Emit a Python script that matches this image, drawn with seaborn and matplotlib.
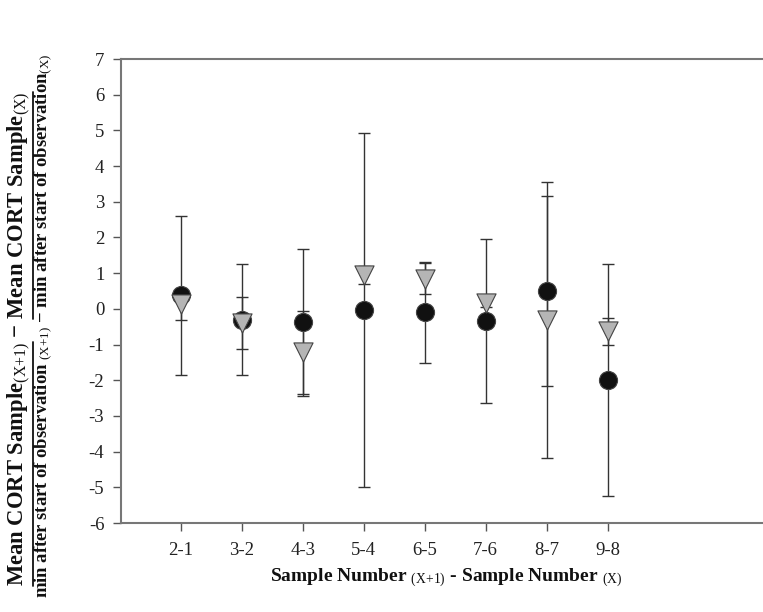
import numpy as np
import pandas as pd
import matplotlib
matplotlib.use("Agg")
import matplotlib.pyplot as plt
from matplotlib.lines import Line2D
import seaborn as sns

categories = ["2-1", "3-2", "4-3", "5-4", "6-5", "7-6", "8-7", "9-8"]
circle_mean = [0.38, -0.30, -0.38, -0.03, -0.10, -0.35, 0.50, -2.00]
circle_err = [2.22, 1.55, 2.05, 4.95, 1.42, 2.30, 2.65, 3.25]
tri_mean = [0.13, -0.40, -1.22, 0.95, 0.85, 0.15, -0.32, -0.63]
tri_err = [0.44, 0.72, 1.17, 0.25, 0.43, 0.10, 3.87, 0.37]

num_a = r"Mean CORT Sample$_{(X{+}1)}$"
num_b = r"Mean CORT Sample$_{(X)}$"
den_text = (r"min after start of observation $_{(X{+}1)}$ − "
            r"min after start of observation$_{(X)}$")
xlabel_text = r"Sample Number $_{(X{+}1)}$ - Sample Number $_{(X)}$"

sns.set_theme(style="ticks")
plt.rcParams["font.family"] = ["Liberation Serif", "DejaVu Serif"]
plt.rcParams["mathtext.fontset"] = "custom"
plt.rcParams["mathtext.rm"] = "Liberation Serif"
plt.rcParams["mathtext.it"] = "Liberation Serif"
plt.rcParams["mathtext.bf"] = "Liberation Serif:bold"

xpos = np.arange(1, len(categories) + 1)
df = pd.DataFrame({
    "x": np.concatenate([xpos, xpos]),
    "y": circle_mean + tri_mean,
    "err": circle_err + tri_err,
    "series": ["circle"] * len(xpos) + ["triangle"] * len(xpos),
})

W, H = 763, 612
fig = plt.figure(figsize=(W / 100, H / 100), dpi=100)
ax = fig.add_axes([121 / W, 1 - 523 / H, 1 - 121 / W, (523 - 59) / H])

line_col = "#333333"
for s in ["circle", "triangle"]:
    d = df[df.series == s]
    ax.errorbar(d.x, d.y, yerr=d.err, fmt="none", ecolor=line_col,
                elinewidth=1.0, capsize=4, capthick=1.0, zorder=1)

sns.scatterplot(data=df[df.series == "circle"], x="x", y="y", ax=ax,
                marker="o", s=170, color="#111111", edgecolor="#444444",
                linewidth=0.8, zorder=3, legend=False)
sns.scatterplot(data=df[df.series == "triangle"], x="x", y="y", ax=ax,
                marker="v", s=190, color="#b5b5b5", edgecolor="#444444",
                linewidth=0.8, zorder=4, legend=False)

ax.set_xlim(0.02, 10.55)
ax.set_ylim(-6, 7)
ax.set_xticks(xpos)
ax.set_xticklabels(categories)
ax.set_yticks(np.arange(-6, 8, 1))
ax.set_yticklabels([str(v) for v in range(-6, 8)])
ax.tick_params(axis="both", labelsize=13.5, length=6, width=1.0,
               color="#555555", labelcolor="#222222", direction="out", pad=6)
ax.tick_params(axis="x", pad=8)
ax.set_xlabel("")
ax.set_ylabel("")

for sp in ["left", "bottom", "top"]:
    ax.spines[sp].set_color("#777777")
    ax.spines[sp].set_linewidth(1.5)
ax.spines["right"].set_visible(False)

# x label
fig.text(446 / W, 1 - 578 / H, xlabel_text, ha="center", va="center",
         fontsize=14, fontweight="bold", color="#111111")

# y label: fraction drawn as two rotated lines with underlined numerator
num_fs, den_fs = 16.3, 13.4
den = fig.text(43 / W, 1 - 326 / H, den_text, rotation=90, ha="center",
               va="center", fontsize=den_fs, fontweight="bold", color="#111111")
num = fig.text(19 / W, 1 - 339 / H, num_a + " − " + num_b, rotation=90,
               ha="center", va="center", fontsize=num_fs, fontweight="bold",
               color="#111111")
ta = fig.text(0.5, 0.5, num_a, rotation=90, fontsize=num_fs,
              fontweight="bold", alpha=0)
tb = fig.text(0.5, 0.5, num_b, rotation=90, fontsize=num_fs,
              fontweight="bold", alpha=0)
fig.canvas.draw()
renderer = fig.canvas.get_renderer()
nb = num.get_window_extent(renderer)
la = ta.get_window_extent(renderer).height
lb = tb.get_window_extent(renderer).height
ta.remove()
tb.remove()
ux = nb.x1 + 0.5
for y0, y1 in [(nb.y0, nb.y0 + la), (nb.y1 - lb, nb.y1)]:
    fig.add_artist(Line2D([ux / W, ux / W], [y0 / H, y1 / H],
                          transform=fig.transFigure, color="#111111", lw=1.3))

fig.savefig("out.png", dpi=100)
